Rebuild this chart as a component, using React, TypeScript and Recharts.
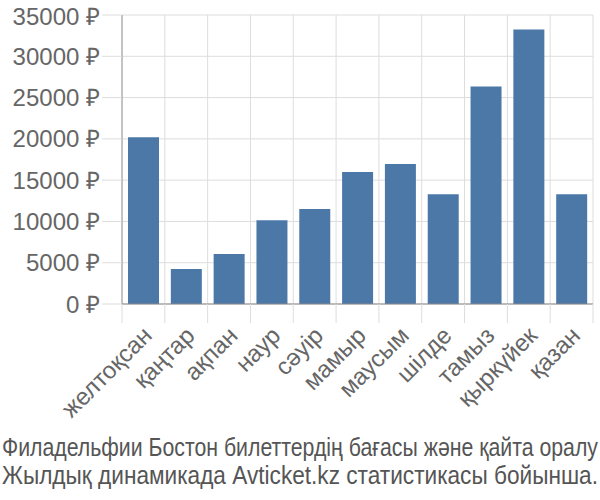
import React from 'react';
import { BarChart, Bar, XAxis, YAxis, CartesianGrid } from 'recharts';

const months = ['желтоқсан', 'қаңтар', 'ақпан', 'наур', 'сәуір', 'мамыр', 'маусым', 'шілде', 'тамыз', 'қыркүйек', 'қазан'];
const prices = [20200, 4250, 6050, 10150, 11500, 16000, 16950, 13300, 26350, 33250, 13300];
const yTicks = [0, 5000, 10000, 15000, 20000, 25000, 30000, 35000];
const captionLines = [
  'Филадельфии Бостон билеттердің бағасы және қайта оралу',
  'Жылдық динамикада Avticket.kz статистикасы бойынша.',
];

const data = months.map((m, i) => ({ month: m, price: prices[i] }));

const W = 600;
const H = 430;
const LEFT = 122;
const RIGHT = 7;
const TOP = 15;
const XAXIS_H = 126;
const STEP = (W - LEFT - RIGHT) / months.length;
const FONT = '"Liberation Sans", Arial, sans-serif';
const NARROW = '"Liberation Sans Narrow", "Liberation Sans", Arial, sans-serif';

const XTick = (props: any) => {
  const { x, y, payload, index } = props;
  const left = x - STEP / 2;
  const tx = x + 10;
  const ty = y + 25;
  return (
    <g>
      <line x1={left} y1={y - 8} x2={left} y2={y + 11} stroke="#ddd" />
      {index === months.length - 1 && (
        <line x1={left + STEP} y1={y - 8} x2={left + STEP} y2={y + 11} stroke="#ddd" />
      )}
      <text
        x={tx}
        y={ty}
        textAnchor="end"
        fill="#666"
        fontSize={24}
        fontFamily={FONT}
        transform={`rotate(-45, ${tx}, ${ty})`}
      >
        {payload.value}
      </text>
    </g>
  );
};

export default function App() {
  return (
    <div style={{ position: 'absolute', left: 0, top: 0, width: W, height: 500, background: '#fff' }}>
      <BarChart width={W} height={H} data={data} margin={{ top: TOP, right: RIGHT, left: 0, bottom: 0 }}>
        <CartesianGrid
          stroke="#ddd"
          verticalCoordinatesGenerator={({ offset }: any) =>
            months.map((_, i) => offset.left + (i + 1) * (offset.width / months.length))
          }
        />
        <XAxis
          dataKey="month"
          height={XAXIS_H}
          interval={0}
          tickLine={false}
          axisLine={{ stroke: '#888' }}
          tick={<XTick />}
        />
        <YAxis
          width={LEFT}
          domain={[0, 35000]}
          ticks={yTicks}
          tickSize={20}
          tickMargin={2}
          tickLine={{ stroke: '#ddd' }}
          axisLine={{ stroke: '#888' }}
          tickFormatter={(v: number) => `${v} ₽`}
          tick={{ fill: '#666', fontSize: 24, fontFamily: FONT }}
        />
        <Bar dataKey="price" fill="#4c78a8" barSize={31} isAnimationActive={false} />
      </BarChart>
      {/* caption, each line stretched to the full width like the source */}
      <svg width={W} height={70} style={{ position: 'absolute', left: 0, top: H }}>
        {captionLines.map((l, i) => (
          <text
            key={l}
            x={2}
            y={26 + i * 28}
            fontSize={26}
            fontFamily={NARROW}
            fill="#555"
            textLength={596}
            lengthAdjust="spacingAndGlyphs"
          >
            {l}
          </text>
        ))}
      </svg>
    </div>
  );
}
